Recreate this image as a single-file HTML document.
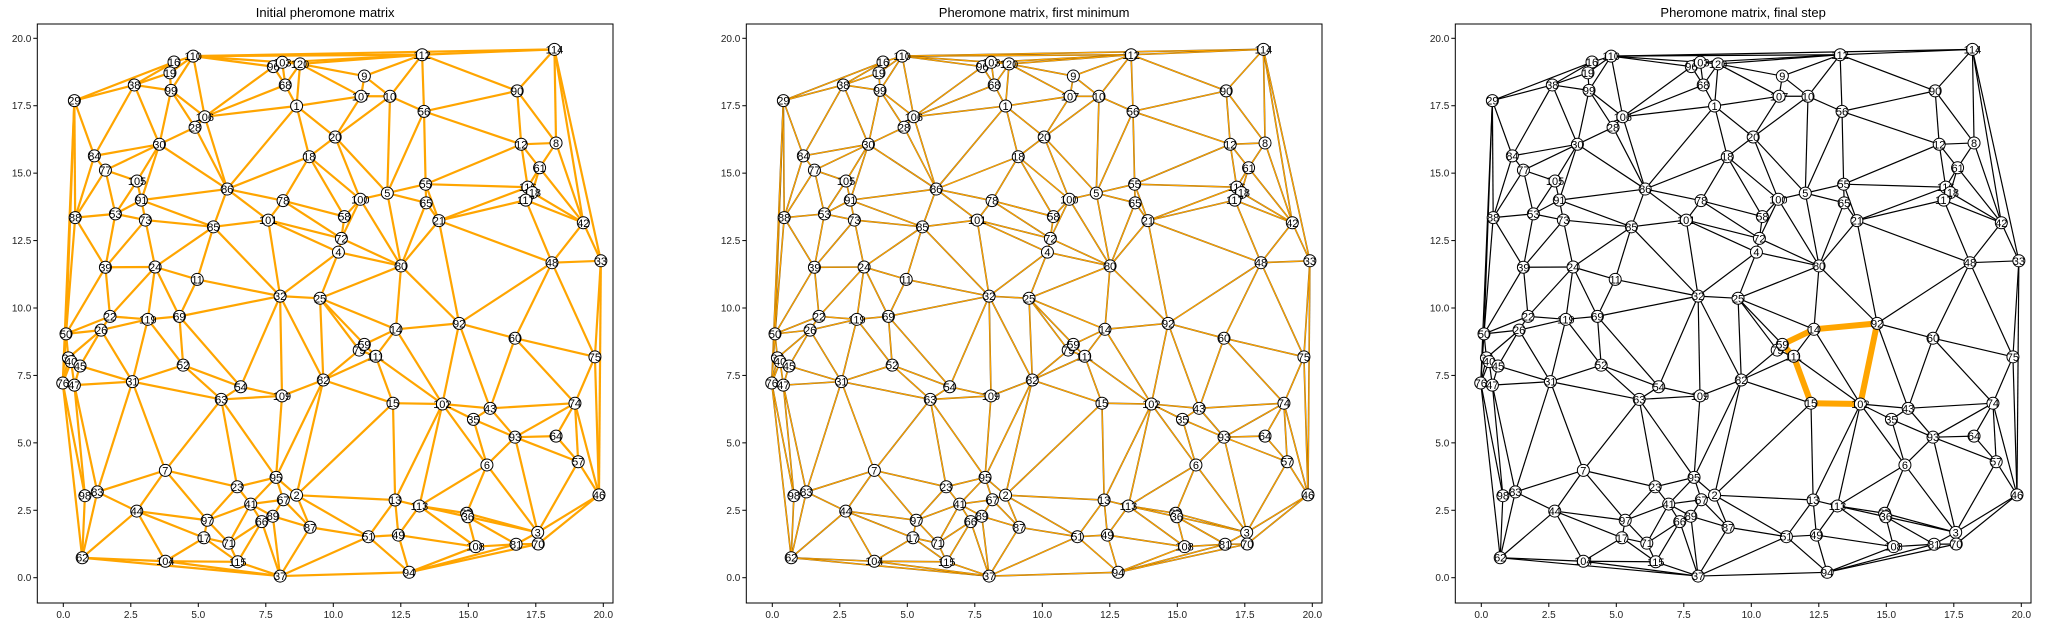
<!DOCTYPE html>
<html><head><meta charset="utf-8"><style>
html,body{margin:0;padding:0;background:#fff;}
svg{display:block;font-family:"Liberation Sans","DejaVu Sans",sans-serif;}
</style></head><body>
<svg id="fig" width="2052" height="627" viewBox="0 0 2052 627" xmlns="http://www.w3.org/2000/svg"></svg>
<script>
// node data (graph coordinates)
const nodeIds = [110,16,19,38,99,29,106,28,30,84,77,105,86,91,88,53,73,85,96,103,120,68,9,112,1,107,10,56,20,18,55,5,65,78,100,101,58,21,72,39,24,11,22,119,69,50,26,34,40,45,52,76,47,31,54,63,4,80,32,25,14,92,79,59,111,82,109,15,102,114,90,12,8,61,116,118,117,42,48,33,60,75,74,43,35,93,64,6,57,46,3,70,81,108,27,36,7,23,98,83,44,97,41,62,17,71,104,115,66,95,2,67,89,87,37,51,13,49,113,94];
const nodeX = [4.81,4.10,3.95,2.63,3.99,0.41,5.24,4.88,3.56,1.15,1.56,2.73,6.07,2.89,0.44,1.93,3.04,5.56,7.78,8.11,8.77,8.22,11.15,13.29,8.64,11.03,12.10,13.36,10.07,9.11,13.42,12.00,13.44,8.14,11.00,7.59,10.41,13.91,10.30,1.56,3.40,4.96,1.73,3.13,4.30,0.10,1.40,0.19,0.29,0.62,4.44,-0.02,0.41,2.56,6.57,5.85,10.19,12.51,8.03,9.51,12.32,14.66,10.96,11.15,11.57,9.63,8.10,12.21,14.04,18.19,16.81,16.96,18.25,17.64,17.20,17.37,17.13,19.26,18.10,19.91,16.73,19.69,18.95,15.81,15.19,16.73,18.25,15.69,19.07,19.84,17.57,17.59,16.77,15.27,14.94,14.98,3.78,6.44,0.80,1.26,2.72,5.33,6.94,0.70,5.21,6.13,3.78,6.46,7.35,7.88,8.64,8.15,7.76,9.14,8.03,11.30,12.29,12.41,13.19,12.81];
const nodeY = [19.34,19.12,18.72,18.27,18.07,17.69,17.09,16.70,16.07,15.64,15.11,14.71,14.41,14.00,13.35,13.49,13.26,13.01,18.95,19.11,19.05,18.27,18.60,19.39,17.49,17.85,17.85,17.29,16.34,15.61,14.59,14.26,13.90,13.98,14.03,13.26,13.39,13.24,12.58,11.51,11.52,11.06,9.69,9.58,9.69,9.04,9.18,8.15,8.01,7.85,7.88,7.22,7.14,7.27,7.08,6.61,12.07,11.56,10.44,10.36,9.21,9.43,8.44,8.65,8.21,7.33,6.74,6.47,6.44,19.59,18.05,16.07,16.12,15.20,14.48,14.28,14.00,13.16,11.68,11.75,8.88,8.19,6.47,6.28,5.87,5.21,5.25,4.18,4.30,3.07,1.68,1.25,1.24,1.15,2.39,2.26,3.98,3.37,3.04,3.18,2.47,2.13,2.73,0.74,1.48,1.28,0.61,0.59,2.08,3.72,3.06,2.89,2.28,1.87,0.06,1.52,2.88,1.58,2.66,0.20];
const finalPath = [14,92,102,15,111,59,14];
const tickVals = [0,2.5,5,7.5,10,12.5,15,17.5,20];
const tickLabels = ["0.0","2.5","5.0","7.5","10.0","12.5","15.0","17.5","20.0"];
const titles = ["Initial pheromone matrix","Pheromone matrix, first minimum","Pheromone matrix, final step"];

const NS="http://www.w3.org/2000/svg";
const fig=document.getElementById('fig');
function mk(tag,attrs,parent){const e=document.createElementNS(NS,tag);for(const k in attrs)e.setAttribute(k,attrs[k]);(parent||fig).appendChild(e);return e;}

// Delaunay (Bowyer-Watson)
function delaunay(xs,ys){
  const n=xs.length;const pts=xs.map((x,i)=>[x,ys[i]]);
  const M=1000;pts.push([-M,-M],[M*2,-M],[0,M*2]);
  let tris=[[n,n+1,n+2]];
  function circ(t){const[a,b,c]=t.map(i=>pts[i]);const d=2*(a[0]*(b[1]-c[1])+b[0]*(c[1]-a[1])+c[0]*(a[1]-b[1]));
    const a2=a[0]*a[0]+a[1]*a[1],b2=b[0]*b[0]+b[1]*b[1],c2=c[0]*c[0]+c[1]*c[1];
    const ux=(a2*(b[1]-c[1])+b2*(c[1]-a[1])+c2*(a[1]-b[1]))/d,uy=(a2*(c[0]-b[0])+b2*(a[0]-c[0])+c2*(b[0]-a[0]))/d;
    return [ux,uy,(a[0]-ux)**2+(a[1]-uy)**2];}
  let cc=tris.map(circ);
  for(let i=0;i<n;i++){const p=pts[i];const bad=[],keep=[],keepc=[];
    tris.forEach((t,k)=>{const c=cc[k];if((p[0]-c[0])**2+(p[1]-c[1])**2<c[2])bad.push(t);else{keep.push(t);keepc.push(c);}});
    const ec={};bad.forEach(t=>{[[t[0],t[1]],[t[1],t[2]],[t[2],t[0]]].forEach(e=>{const k=Math.min(e[0],e[1])+'_'+Math.max(e[0],e[1]);ec[k]=(ec[k]||0)+1;});});
    tris=keep;cc=keepc;
    for(const k in ec){if(ec[k]===1){const [a,b]=k.split('_').map(Number);const t=[a,b,i];tris.push(t);cc.push(circ(t));}}
  }
  const edges={};tris.forEach(t=>{[[t[0],t[1]],[t[1],t[2]],[t[2],t[0]]].forEach(e=>{if(e[0]<n&&e[1]<n){const a=Math.min(e[0],e[1]),b=Math.max(e[0],e[1]);edges[a+'_'+b]=[a,b];}});});
  return Object.values(edges);
}
const edges=delaunay(nodeX,nodeY);

const offsets=[0,709,1418];
const AX_L=37.3,AX_R=613,AX_T=24,AX_B=603;
function sx(v,p){return offsets[p]+63.3+v*27;}
function sy(v){return 577.7-v*26.97;}

for(let p=0;p<3;p++){
  const o=offsets[p];
  const g=mk('g',{});
  
  
  const t=mk('text',{x:o+(AX_L+AX_R)/2,y:17,'text-anchor':'middle','font-size':'13',fill:'#000'},g);
  t.textContent=titles[p];
  
  
  const eg=mk('g',{},g);
  
  
  edges.forEach(e=>{
    const x1=sx(nodeX[e[0]],p),y1=sy(nodeY[e[0]]),x2=sx(nodeX[e[1]],p),y2=sy(nodeY[e[1]]);
    if(p===0){const l=mk('line',{x1,y1,x2,y2,stroke:'#ffa500','stroke-width':2.2},eg);}
    else if(p===1){mk('line',{x1,y1,x2,y2,stroke:'#6b4a10','stroke-width':1.6},eg);const l=mk('line',{x1,y1,x2,y2,stroke:'#ffa500','stroke-width':1.1},eg);}
    else{const l=mk('line',{x1,y1,x2,y2,stroke:'#000','stroke-width':1.2},eg);}
  });
  if(p===2){
    for(let i=0;i<finalPath.length-1;i++){
      const a=nodeIds.indexOf(finalPath[i]),b=nodeIds.indexOf(finalPath[i+1]);
      const l=mk('line',{x1:sx(nodeX[a],p),y1:sy(nodeY[a]),x2:sx(nodeX[b],p),y2:sy(nodeY[b]),stroke:'#ffa500','stroke-width':6,'stroke-linecap':'round'},g);
      
      
    }
  }
  nodeIds.forEach((id,i)=>{
    const cx=sx(nodeX[i],p),cy=sy(nodeY[i]);
    const c=mk('circle',{cx,cy,r:6,fill:'#fff',stroke:'#000','stroke-width':1},g);
    
    
    const tx=mk('text',{x:cx,y:cy+4,'text-anchor':'middle','font-size':'11',fill:'#000'},g);
    tx.textContent=String(id);
    
    
  });
  const fr=mk('rect',{x:o+AX_L,y:AX_T,width:AX_R-AX_L,height:AX_B-AX_T,fill:'none',stroke:'#000','stroke-width':1},g);
  
  
  tickVals.forEach((v,k)=>{
    const x=sx(v,p);
    mk('line',{x1:x,y1:AX_B,x2:x,y2:AX_B+4,stroke:'#000','stroke-width':1},g);
    const lx=mk('text',{x:x,y:AX_B+15,'text-anchor':'middle','font-size':'10',fill:'#222'},g);
    lx.textContent=tickLabels[k];
    
    
    const y=sy(v);
    mk('line',{x1:o+AX_L-4,y1:y,x2:o+AX_L,y2:y,stroke:'#000','stroke-width':1},g);
    const ly=mk('text',{x:o+AX_L-6,y:y+3.5,'text-anchor':'end','font-size':'10',fill:'#222'},g);
    ly.textContent=tickLabels[k];
    
    
  });
}
</script>
</body></html>
